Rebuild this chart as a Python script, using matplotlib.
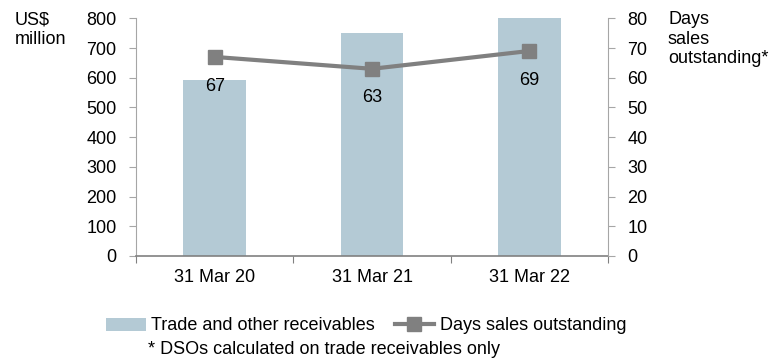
import matplotlib.pyplot as plt
import numpy as np

plt.rcParams["font.family"] = ["Liberation Sans", "DejaVu Sans"]

# Receivables (US$ m) and days sales outstanding per year end
categories = ["31 Mar 20", "31 Mar 21", "31 Mar 22"]
receivables = [594, 750, 800]
dso_days = [67, 63, 69]

BAR_COLOR = "#B4CAD5"
LINE_COLOR = "#808080"
SPINE_COLOR = "#A6A6A6"
FS = 13

fig = plt.figure(figsize=(7.69, 3.64), dpi=100)
ax = fig.add_axes([136 / 769, 1 - 256 / 364, (608 - 136) / 769, (256 - 18.3) / 364])
ax2 = ax.twinx()

x = np.arange(len(categories))
bars = ax.bar(x, receivables, width=0.4, color=BAR_COLOR, zorder=1,
              label="Trade and other receivables")
line, = ax2.plot(x, dso_days, color=LINE_COLOR, linewidth=3, marker="s",
                 markersize=10, markerfacecolor=LINE_COLOR, markeredgecolor=LINE_COLOR,
                 label="Days sales outstanding")
for xi, v in zip(x, dso_days):
    ax2.annotate(f"{v}", (xi, v), xytext=(0, -21), textcoords="offset points",
                 ha="center", va="center", fontsize=FS)

ax.set_xlim(-0.5, 2.5)
ax.set_ylim(0, 800)
ax.set_yticks(range(0, 801, 100))
ax2.set_ylim(0, 80)
ax2.set_yticks(range(0, 81, 10))
ax.set_xticks([-0.5, 0.5, 1.5, 2.5], minor=False)
ax.set_xticklabels([])
ax.set_xticks(x, minor=True)
ax.set_xticklabels(categories, minor=True)
ax.tick_params(axis="x", which="minor", length=0, labelsize=FS, pad=9)
ax.tick_params(axis="x", which="major", length=5, color=LINE_COLOR, direction="out")

for a in (ax, ax2):
    a.spines["top"].set_visible(False)
    a.tick_params(axis="y", labelsize=FS, length=5, color=SPINE_COLOR, pad=9)
ax.spines["left"].set_color(SPINE_COLOR)
ax.spines["right"].set_visible(False)
ax2.spines["left"].set_visible(False)
ax2.spines["right"].set_color(SPINE_COLOR)
ax.spines["bottom"].set_color(LINE_COLOR)
ax.spines["bottom"].set_linewidth(1.2)
ax2.spines["bottom"].set_visible(False)

fig.text(15 / 769, 1 - 11 / 364, "US$\nmillion", ha="left", va="top",
         fontsize=FS, linespacing=1.2)
fig.text(668 / 769, 1 - 11 / 364, "Days\nsales\noutstanding*", ha="left", va="top",
         fontsize=FS, linespacing=1.2)

fig.legend([bars, line], ["Trade and other receivables", "Days sales outstanding"],
           loc="center", bbox_to_anchor=(366 / 769, 1 - 326 / 364), ncol=2,
           frameon=False, fontsize=FS, handlelength=2.2, handletextpad=0.3,
           columnspacing=1.1)
fig.text(148 / 769, 1 - 350 / 364, "* DSOs calculated on trade receivables only",
         ha="left", va="center", fontsize=FS)

fig.savefig("out.png", dpi=100)
